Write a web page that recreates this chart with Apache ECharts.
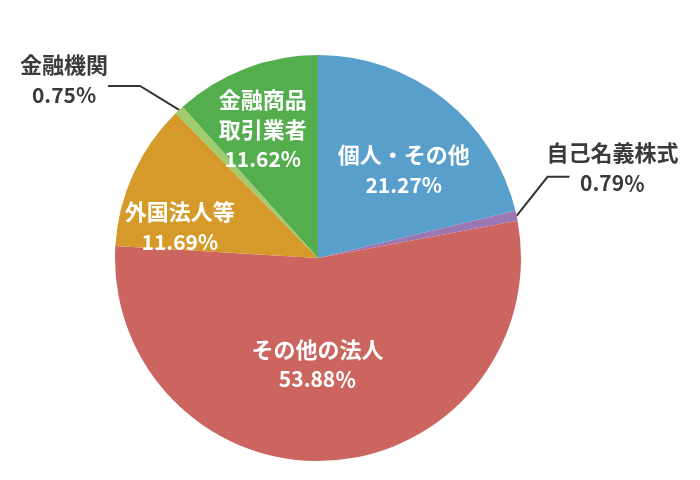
<!DOCTYPE html>
<html><head><meta charset="utf-8">
<script src="https://cdn.jsdelivr.net/npm/echarts@6/dist/echarts.min.js"></script>
<style>html,body{margin:0;padding:0;background:#fff}#c{width:700px;height:480px}</style>
</head><body><div id="c"></div>
<script>
const categories = ['個人・その他','自己名義株式','その他の法人','外国法人等','金融機関','金融商品取引業者'];
const values = [21.27, 0.79, 53.88, 11.69, 0.75, 11.62];
const nameLines = [['個人・その他'],['自己名義株式'],['その他の法人'],['外国法人等'],['金融機関'],['金融商品','取引業者']];
const percentSigns = ['%','％','％','%','%','%'];
const colors = ['#589FCC','#9B78B4','#CC6560','#D69A2A','#A0CC6E','#55AE4E'];
const outside = [false, true, false, false, true, false];

// label placement (style only)
const insideShift = [[21,-6], null, [-7,2], [-43,12], null, [-18,-31]];
const outsideGeom = {
  1: {bend:[31,-39], end:[53,-39], label:[96,-48]},
  4: {bend:[-39,-24], end:[-71,-24], label:[-115,-30]}
};

const chart = echarts.init(document.getElementById('c'), null, {renderer:'canvas'});
const font = '"Noto Sans CJK JP", "Noto Sans", sans-serif';
chart.setOption({
  animation: false,
  series: [{
    type: 'pie',
    center: [318, 258],
    radius: 203,
    startAngle: 90,
    clockwise: true,
    avoidLabelOverlap: false,
    emphasis: {disabled: true},
    itemStyle: {borderWidth: 0},
    data: categories.map((c, i) => ({
      name: c,
      value: values[i],
      itemStyle: {color: colors[i]},
      label: outside[i]
        ? {position: 'outside', color: '#3a3a3a'}
        : {position: 'inside', color: '#ffffff'},
      labelLine: {show: outside[i], length: 30, length2: 25, lineStyle: {color: '#333333', width: 2}}
    })),
    label: {
      fontFamily: font,
      fontSize: 22,
      fontWeight: 'bold',
      lineHeight: 30,
      align: 'center',
      rich: {
        n: {fontFamily: font, fontSize: 22, fontWeight: 'bold', lineHeight: 30},
        v: {fontFamily: font, fontSize: 21, fontWeight: 'bold', lineHeight: 30}
      },
      formatter: p => nameLines[p.dataIndex].map(s => '{n|' + s + '}').join('\n') +
        '\n{v|' + values[p.dataIndex].toFixed(2) + percentSigns[p.dataIndex] + '}'
    },
    labelLayout: function (params) {
      const i = params.dataIndex;
      if (outside[i]) {
        const g = outsideGeom[i];
        const p0 = params.labelLinePoints[0];
        return {
          x: p0[0] + g.label[0], y: p0[1] + g.label[1],
          align: 'center', verticalAlign: 'middle',
          labelLinePoints: [p0, [p0[0] + g.bend[0], p0[1] + g.bend[1]], [p0[0] + g.end[0], p0[1] + g.end[1]]]
        };
      }
      return {dx: insideShift[i][0], dy: insideShift[i][1]};
    }
  }]
});
</script>
</body></html>
